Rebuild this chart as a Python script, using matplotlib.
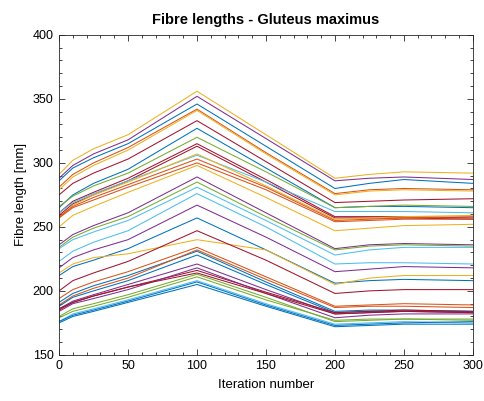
import numpy as np
import matplotlib
matplotlib.use('Agg')
import matplotlib.pyplot as plt
from matplotlib.ticker import MultipleLocator

plt.rc('font', family='Liberation Sans')

iters = [0, 10, 25, 50, 100, 150, 200, 225, 250, 300]

# fibre lengths [mm], one list per fibre
fibres = [
    [291, 302, 311, 322, 356, 322, 288, 291, 293, 292],
    [288, 298, 307, 318, 352, 319, 286, 288, 289, 287],
    [286, 296, 304, 315, 346, 313, 280, 284, 287, 284],
    [281, 291, 300, 312, 342, 308, 276, 279, 280, 279],
    [279, 289, 298, 310, 341, 307, 275, 278, 279, 278],
    [275, 284, 292, 303, 333, 301, 269, 270, 271, 272],
    [265, 275, 284, 295, 327, 296, 265, 266, 266, 265],
    [266, 274, 282, 292, 320, 293, 265, 266, 267, 266],
    [261, 270, 277, 288, 315, 287, 258, 258, 258, 257],
    [259, 268, 275, 286, 313, 285, 257, 257, 257, 256],
    [261, 269, 276, 286, 306, 285, 262, 262, 262, 261],
    [257, 267, 275, 285, 307, 282, 256, 257, 258, 259],
    [258, 266, 273, 283, 303, 281, 255, 256, 257, 258],
    [257, 265, 271, 281, 300, 279, 254, 255, 256, 256],
    [250, 259, 266, 277, 298, 273, 247, 249, 251, 252],
    [236, 244, 251, 261, 289, 261, 233, 236, 237, 236],
    [234, 242, 249, 258, 285, 258, 232, 235, 236, 235],
    [233, 240, 246, 255, 281, 255, 228, 232, 234, 234],
    [223, 231, 238, 247, 276, 250, 221, 222, 222, 221],
    [218, 226, 232, 240, 267, 242, 215, 217, 219, 218],
    [212, 219, 224, 233, 257, 232, 206, 208, 209, 208],
    [214, 221, 226, 229, 240, 232, 205, 210, 212, 212],
    [200, 208, 214, 223, 247, 224, 198, 200, 201, 201],
    [194, 201, 207, 215, 234, 211, 188, 189, 190, 189],
    [191, 198, 204, 212, 231, 207, 184, 185, 185, 184],
    [189, 196, 202, 210, 232, 209, 187, 188, 188, 187],
    [188, 195, 200, 208, 228, 205, 183, 184, 184, 184],
    [186, 192, 197, 205, 221, 201, 182, 183, 184, 183],
    [185, 191, 196, 203, 216, 199, 183, 184, 185, 184],
    [184, 190, 194, 201, 218, 198, 179, 181, 182, 182],
    [186, 191, 196, 203, 214, 198, 182, 183, 184, 183],
    [180, 186, 190, 197, 213, 195, 176, 177, 178, 178],
    [179, 184, 188, 195, 211, 193, 177, 178, 178, 177],
    [176, 182, 186, 193, 208, 190, 174, 175, 176, 175],
    [175, 180, 184, 191, 205, 188, 172, 173, 174, 174],
    [176, 181, 185, 192, 207, 189, 173, 174, 175, 176],
]

# MATLAB default colours
mcol = {'b': '#0072BD', 'o': '#D95319', 'y': '#EDB120', 'p': '#7E2F8E',
        'g': '#77AC30', 'c': '#4DBEEE', 'r': '#A2142F'}
colours = ['y', 'p', 'b', 'o', 'y', 'r', 'b', 'g', 'r', 'r', 'c', 'y', 'o', 'o', 'y',
           'p', 'g', 'c',
           'c', 'p', 'b', 'y', 'r',
           'o', 'b', 'o', 'b', 'p', 'r', 'p', 'r', 'g', 'g', 'c', 'b', 'b']

fig = plt.figure(figsize=(4.84, 4.01), dpi=100)
ax = fig.add_axes([0.122, 0.115, 0.855, 0.798])

for f, c in zip(fibres, colours):
    ax.plot(iters, f, color=mcol[c], lw=0.75)

ax.set_xlim(0, 300)
ax.set_ylim(150, 400)
ax.xaxis.set_major_locator(MultipleLocator(50))
ax.yaxis.set_major_locator(MultipleLocator(50))
ax.xaxis.set_minor_locator(MultipleLocator(10))
ax.yaxis.set_minor_locator(MultipleLocator(10))
ax.tick_params(which='both', direction='in', top=True, right=True,
               labelsize=9, width=0.6, color='#262626')
ax.tick_params(which='major', length=4, pad=4)
ax.tick_params(which='minor', length=2)
for s in ax.spines.values():
    s.set_linewidth(0.6)
    s.set_color('#262626')

ax.set_xlabel('Iteration number', fontsize=9.5, labelpad=5)
ax.set_ylabel('Fibre length [mm]', fontsize=9.5, labelpad=4)
ax.set_title('Fibre lengths - Gluteus maximus', fontsize=10.5, fontweight='bold', pad=8)

fig.savefig('out.png', dpi=100)
